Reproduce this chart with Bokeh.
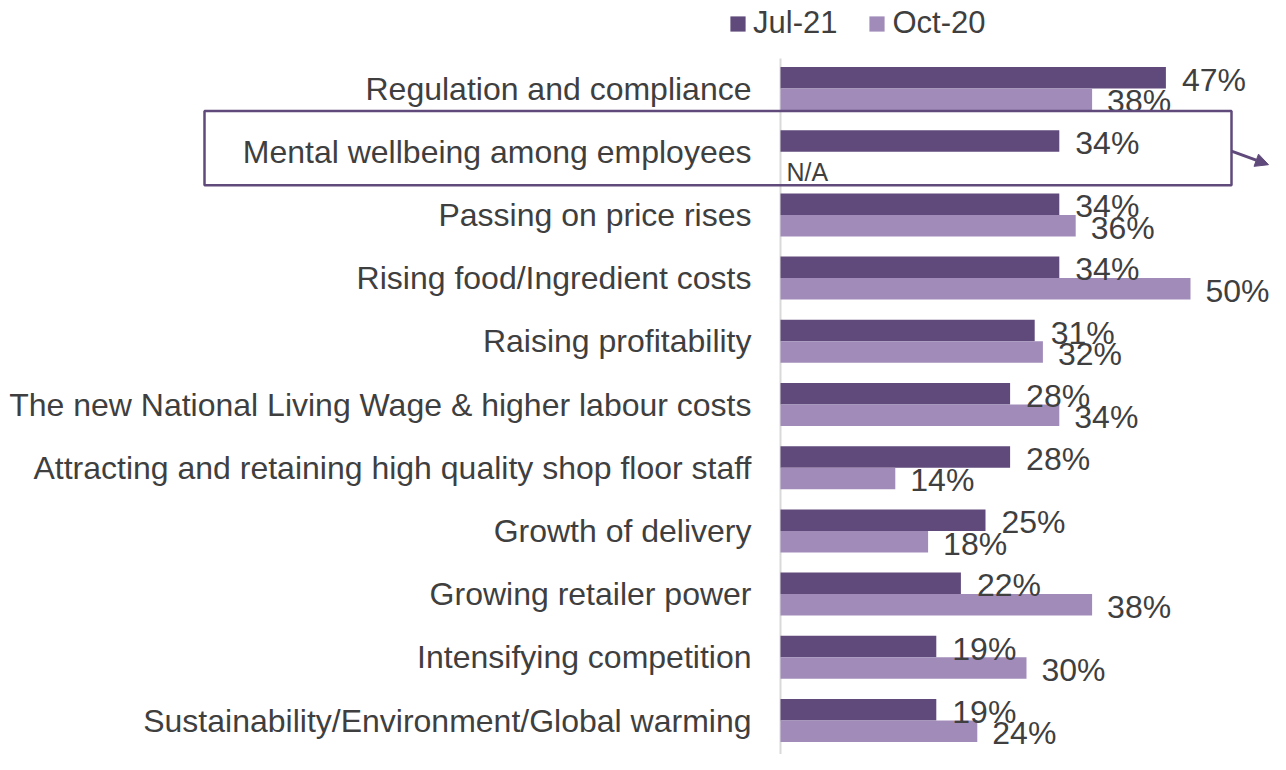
from bokeh.plotting import figure
from bokeh.models import Range1d, BoxAnnotation, Arrow, NormalHead, Legend, LegendItem, ColumnDataSource
from bokeh.core.properties import value
from bokeh.embed import file_html
from bokeh.resources import INLINE

# ---- data ----
categories = [
    "Regulation and compliance",
    "Mental wellbeing among employees",
    "Passing on price rises",
    "Rising food/Ingredient costs",
    "Raising profitability",
    "The new National Living Wage & higher labour costs",
    "Attracting and retaining high quality shop floor staff",
    "Growth of delivery",
    "Growing retailer power",
    "Intensifying competition",
    "Sustainability/Environment/Global warming",
]
jul21 = [47, 34, 34, 34, 31, 28, 28, 25, 22, 19, 19]
oct20 = [38, None, 36, 50, 32, 34, 14, 18, 38, 30, 24]
series_names = ["Jul-21", "Oct-20"]
highlight_index = 1
na_label = "N/A"

# ---- style ----
DARK = "#604A7B"
LIGHT = "#A18BB9"
TEXT = "#3F3F3F"
AXIS = "#D9D9D9"
FONT = "Liberation Sans"

W, H = 1270, 754
PX_PER_PCT = 8.2
X0 = 780.0          # pixel of the zero line
ROW0 = 88.0         # pixel of first row centre
ROW_STEP = 63.2     # pixels between rows
BAR_H = 21.5 / ROW_STEP


def px_x(px):
    return (px - X0) / PX_PER_PCT


def px_y(px):
    return (px - ROW0) / ROW_STEP


p = figure(width=W, height=H, output_backend="svg", toolbar_location=None,
           x_range=Range1d(px_x(0), px_x(W)),
           y_range=Range1d(px_y(H), px_y(0)),
           min_border=0, outline_line_color=None)
p.axis.visible = False
p.grid.visible = False
p.background_fill_color = "white"
p.border_fill_color = "white"

rows = list(range(len(categories)))
nan = float("nan")
src_j = ColumnDataSource(dict(
    y=[r - BAR_H / 2 for r in rows], v=jul21,
    lab=[f"{v}%" for v in jul21]))
oct_vals = [nan if v is None else v for v in oct20]
oy = [r + BAR_H / 2 for r, v in zip(rows, oct20) if v is not None]
ov = [v for v in oct20 if v is not None]
src_o = ColumnDataSource(dict(y=[r + BAR_H / 2 for r in rows], v=oct_vals))
src_ol = ColumnDataSource(dict(y=oy, v=ov, lab=[f"{v}%" for v in ov]))

# zero line
p.segment(x0=[0], y0=[px_y(58)], x1=[0], y1=[px_y(H + 10)], line_color=AXIS, line_width=2)

r1 = p.hbar(y="y", left=0, right="v", height=BAR_H, source=src_j,
            fill_color=DARK, line_color=None)
r2 = p.hbar(y="y", left=0, right="v", height=BAR_H, source=src_o,
            fill_color=LIGHT, line_color=None)

# value labels
p.text(x="v", y="y", text="lab", source=src_j, x_offset=16, y_offset=2,
       text_font=value(FONT), text_font_size="32px", text_color=TEXT,
       text_baseline="middle", text_align="left")
p.text(x="v", y="y", text="lab", source=src_ol, x_offset=15, y_offset=2,
       text_font=value(FONT), text_font_size="32px", text_color=TEXT,
       text_baseline="middle", text_align="left")

# N/A label
p.text(x=[0], y=[highlight_index + BAR_H / 2], text=[na_label], x_offset=6, y_offset=10,
       text_font=value(FONT), text_font_size="25px", text_color=TEXT,
       text_baseline="middle", text_align="left")

# category labels
p.text(x=[0] * len(categories), y=rows, text=categories, x_offset=-29,
       text_font=value(FONT), text_font_size="32px", text_color=TEXT,
       text_baseline="middle", text_align="right")

# highlight box and arrow
box_left = px_x(204)
box_right = px_x(1231)
p.add_layout(BoxAnnotation(left=box_left, right=box_right,
                           top=highlight_index - 40.8 / ROW_STEP,
                           bottom=highlight_index + 33.5 / ROW_STEP,
                           fill_alpha=0, fill_color=None,
                           line_color=DARK, line_alpha=1.0, line_width=2.5))
p.add_layout(Arrow(end=NormalHead(size=13, fill_color=DARK, line_color=DARK),
                   x_start=box_right, y_start=highlight_index - 0.5 / ROW_STEP,
                   x_end=px_x(1268), y_end=highlight_index + 13 / ROW_STEP,
                   line_color=DARK, line_width=3))

legend = Legend(items=[LegendItem(label=series_names[0], renderers=[r1]),
                       LegendItem(label=series_names[1], renderers=[r2])],
                orientation="horizontal", location=(728, 713),
                glyph_width=19, glyph_height=19, label_standoff=6, spacing=30,
                label_text_font=FONT, label_text_font_size="31px", label_text_color=TEXT,
                border_line_alpha=0, background_fill_alpha=0, padding=0, margin=0)
p.add_layout(legend, "center")

open("out.html", "w").write(file_html(p, INLINE))
